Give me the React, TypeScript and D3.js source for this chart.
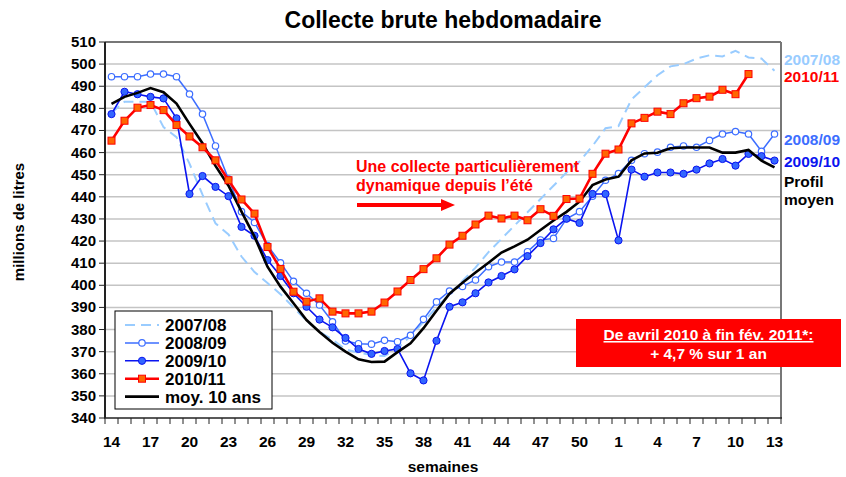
import React from 'react';
import * as d3 from 'd3';

// weeks 14..52 then 1..13
const weeks: string[] = [
  ...d3.range(14, 53).map(String),
  ...d3.range(1, 14).map(String),
];
const tickWeeks = ['14', '17', '20', '23', '26', '29', '32', '35', '38', '41', '44', '47', '50', '1', '4', '7', '10', '13'];
const yTicks = d3.range(340, 511, 10);

const v0708 = [478, 483, 483, 483, 471.5, 467, 455, 441, 428, 423, 413, 406, 401, 396, 390, 384, 379, 375.5, 371, 369.5,
  368.5, 368, 371.5, 377, 383.5, 390, 396, 402, 408, 415, 421, 427, 433, 439, 445, 451, 456, 463, 471, 472,
  484, 489.5, 495, 499, 500, 502.5, 504, 503.5, 506, 503, 502.5, 497];
const v0809 = [494.3, 494.3, 494.3, 495.5, 495.5, 494.3, 486.5, 477.4, 463, 448, 433.3, 428.4, 418, 410.2, 401.8, 396.4, 391.1, 383.5, 374.8, 373.6,
  373.4, 375.1, 374.5, 377.4, 384.6, 392.5, 397.4, 399.5, 402.4, 408.4, 410.5, 410.5, 415.2, 420.5, 421.2, 430.1, 433.3, 440.3, 447.5, 450.5,
  456.5, 459.5, 460.2, 462.4, 463, 462.4, 465.5, 468.4, 469.5, 468.4, 460.6, 468.4];
const v0910 = [477.4, 487.5, 486.4, 485.2, 484.5, 475.5, 441.3, 449.4, 444.5, 440.3, 426.4, 422.4, 411.4, 404.2, 396.4, 390.3, 384.5, 381, 376.2, 371.2,
  369, 370.3, 371.2, 360.2, 357, 374.9, 390.3, 392.3, 396.4, 401.3, 404.2, 407.2, 413.2, 419.1, 425.3, 430.1, 428.2, 441.3, 441.3, 420.3,
  452.3, 449.1, 451, 451, 450.4, 452.3, 455.1, 457.1, 454.1, 459.4, 458.4, 456.4];
const v1011 = [465.4, 474.4, 480.3, 481.5, 479.2, 472.5, 467.3, 462.4, 456.5, 447.5, 438.8, 432.4, 417.3, 407.4, 397.1, 392.6, 394.1, 388.1, 387.3, 387.3,
  388.1, 392.2, 397.2, 402.4, 407.3, 412.2, 418.4, 422.4, 427.5, 431.5, 430.2, 431.5, 429.4, 434.4, 431.4, 439, 439.2, 450.4, 459.5, 461.4,
  473.2, 475.7, 478.5, 477.4, 482.3, 484.6, 485.3, 488.4, 486.4, 495.5];
const vMoy = [482, 485.2, 487, 489.2, 487.3, 482.2, 473, 464.2, 454, 445, 433.3, 422, 408.4, 399.4, 391.9, 384.3, 378.9, 374, 370, 366.5,
  365.3, 365.5, 369.8, 373.8, 380.6, 388.5, 396.2, 401.2, 405.8, 410.2, 414.8, 417.6, 420.6, 425, 429.3, 433.2, 437.8, 445.3, 447.8, 449.1,
  456.5, 459.6, 459.9, 462, 462.3, 462.3, 462.3, 460, 460, 461.2, 456.3, 453.3];

const C0708 = '#99ccff';
const C0809 = '#3d6eff';
const C0910 = '#0a14f0';
const C0910f = '#3366ff';
const C1011 = '#ff0000';
const C1011f = '#ff6600';

const FONT = 'Liberation Sans, Arial, sans-serif';

export default function App() {
  const W = 846, H = 477;
  const x = d3.scaleBand<string>().domain(weeks).range([105, 781]);
  const y = d3.scaleLinear().domain([340, 510]).range([418, 42]);
  const cx = (i: number) => (x(weeks[i]) as number) + x.bandwidth() / 2;
  const line = d3.line<number>().x((_, i) => cx(i)).y((d) => y(d));

  const boundaries = d3.range(weeks.length + 1).map((i) => 105 + i * x.bandwidth());

  const square = (px: number, py: number, k: string) => (
    <rect key={k} x={px - 3.5} y={py - 3.5} width={7} height={7} fill={C1011f} stroke={C1011} strokeWidth={1} />
  );

  const legendRows = [
    { label: '2007/08', kind: 'dash' },
    { label: '2008/09', kind: 'open' },
    { label: '2009/10', kind: 'filled' },
    { label: '2010/11', kind: 'square' },
    { label: 'moy. 10 ans', kind: 'moy' },
  ];

  return (
    <svg width={W} height={H} style={{ position: 'absolute', left: 0, top: 0, background: '#fff' }} fontFamily={FONT}>
      <rect width={W} height={H} fill="#fff" />
      <text x={443} y={28} textAnchor="middle" fontSize={23} fontWeight="bold">Collecte brute hebdomadaire</text>

      {/* grid */}
      {yTicks.filter((t) => t > 340 && t < 510).map((t) => (
        <line key={t} x1={105} x2={781} y1={y(t)} y2={y(t)} stroke="#c4c4c4" strokeWidth={1.5} />
      ))}
      <line x1={105} x2={781} y1={y(510)} y2={y(510)} stroke="#777" strokeWidth={2} />
      <line x1={781} x2={781} y1={y(510)} y2={y(340)} stroke="#777" strokeWidth={2} />

      {/* axes */}
      <line x1={105} x2={105} y1={y(510)} y2={y(340)} stroke="#222" strokeWidth={2} />
      <line x1={104} x2={782} y1={y(340)} y2={y(340)} stroke="#222" strokeWidth={1.5} />
      {yTicks.map((t) => (
        <g key={t}>
          <line x1={99} x2={105} y1={y(t)} y2={y(t)} stroke="#222" strokeWidth={1} />
          <text x={96} y={y(t) + 5} textAnchor="end" fontSize={15} fontWeight="bold">{t}</text>
        </g>
      ))}
      {boundaries.map((b, i) => (
        <line key={i} x1={b} x2={b} y1={418} y2={424} stroke="#222" strokeWidth={1} />
      ))}
      {tickWeeks.map((w) => (
        <text key={w} x={(x(w) as number) + x.bandwidth() / 2} y={447} textAnchor="middle" fontSize={15.5} fontWeight="bold">{w}</text>
      ))}
      <text x={443} y={472} textAnchor="middle" fontSize={15.5} fontWeight="bold">semaines</text>
      <text transform="translate(24,222) rotate(-90)" textAnchor="middle" fontSize={15} fontWeight="bold">millions de litres</text>

      {/* series */}
      <path d={line(v0708) || ''} fill="none" stroke={C0708} strokeWidth={2} strokeDasharray="10,6" />
      <path d={line(v0809) || ''} fill="none" stroke={C0809} strokeWidth={1.5} />
      {v0809.map((v, i) => (
        <circle key={i} cx={cx(i)} cy={y(v)} r={3.2} fill="#fff" stroke={C0809} strokeWidth={1.2} />
      ))}
      <path d={line(v0910) || ''} fill="none" stroke={C0910} strokeWidth={1.6} />
      {v0910.map((v, i) => (
        <circle key={i} cx={cx(i)} cy={y(v)} r={3.6} fill={C0910f} stroke={C0910} strokeWidth={1} />
      ))}
      <path d={line(vMoy) || ''} fill="none" stroke="#000" strokeWidth={2.6} />
      <path d={line(v1011) || ''} fill="none" stroke={C1011} strokeWidth={2.6} />
      {v1011.map((v, i) => square(cx(i), y(v), 's' + i))}

      {/* right labels */}
      <g fontSize={15.5} fontWeight="bold">
        <text x={784} y={65} fill={C0708}>2007/08</text>
        <text x={784} y={82} fill={C1011}>2010/11</text>
        <text x={784} y={145} fill={C0809}>2008/09</text>
        <text x={784} y={167} fill={C0910}>2009/10</text>
        <text x={784} y={187} fill="#000">Profil</text>
        <text x={784} y={205} fill="#000">moyen</text>
      </g>

      {/* annotation */}
      <g fontSize={16} fontWeight="bold" fill={C1011}>
        <text x={356} y={172}>Une collecte particulièrement</text>
        <text x={356} y={191}>dynamique depuis l’été</text>
      </g>
      <line x1={357} x2={442} y1={205} y2={205} stroke={C1011} strokeWidth={4} />
      <path d="M441,199 L455,205 L441,211 Z" fill={C1011} />

      {/* legend */}
      <rect x={115} y={311} width={157} height={98} fill="#fff" stroke="#000" strokeWidth={1} />
      {legendRows.map((r, i) => {
        const ly = 325 + i * 17.9;
        return (
          <g key={r.label}>
            {r.kind === 'dash' && <line x1={125} x2={159} y1={ly} y2={ly} stroke={C0708} strokeWidth={2} strokeDasharray="10,6" />}
            {r.kind === 'open' && (
              <>
                <line x1={125} x2={159} y1={ly} y2={ly} stroke={C0809} strokeWidth={1.5} />
                <circle cx={142} cy={ly} r={3.2} fill="#fff" stroke={C0809} strokeWidth={1.2} />
              </>
            )}
            {r.kind === 'filled' && (
              <>
                <line x1={125} x2={159} y1={ly} y2={ly} stroke={C0910} strokeWidth={1.6} />
                <circle cx={142} cy={ly} r={3.6} fill={C0910f} stroke={C0910} strokeWidth={1} />
              </>
            )}
            {r.kind === 'square' && (
              <>
                <line x1={125} x2={159} y1={ly} y2={ly} stroke={C1011} strokeWidth={2.6} />
                {square(142, ly, 'ls')}
              </>
            )}
            {r.kind === 'moy' && <line x1={125} x2={159} y1={ly} y2={ly} stroke="#000" strokeWidth={2.6} />}
            <text x={165} y={ly + 6} fontSize={17} fontWeight="bold">{r.label}</text>
          </g>
        );
      })}

      {/* box */}
      <rect x={576} y={319} width={265} height={48} fill="#ff0000" />
      <g fontSize={15.5} fontWeight="bold" fill="#fff" textAnchor="middle">
        <text x={708.5} y={340} textDecoration="underline">De avril 2010 à fin fév. 2011*:</text>
        <text x={708.5} y={359}>+ 4,7 % sur 1 an</text>
      </g>
    </svg>
  );
}
